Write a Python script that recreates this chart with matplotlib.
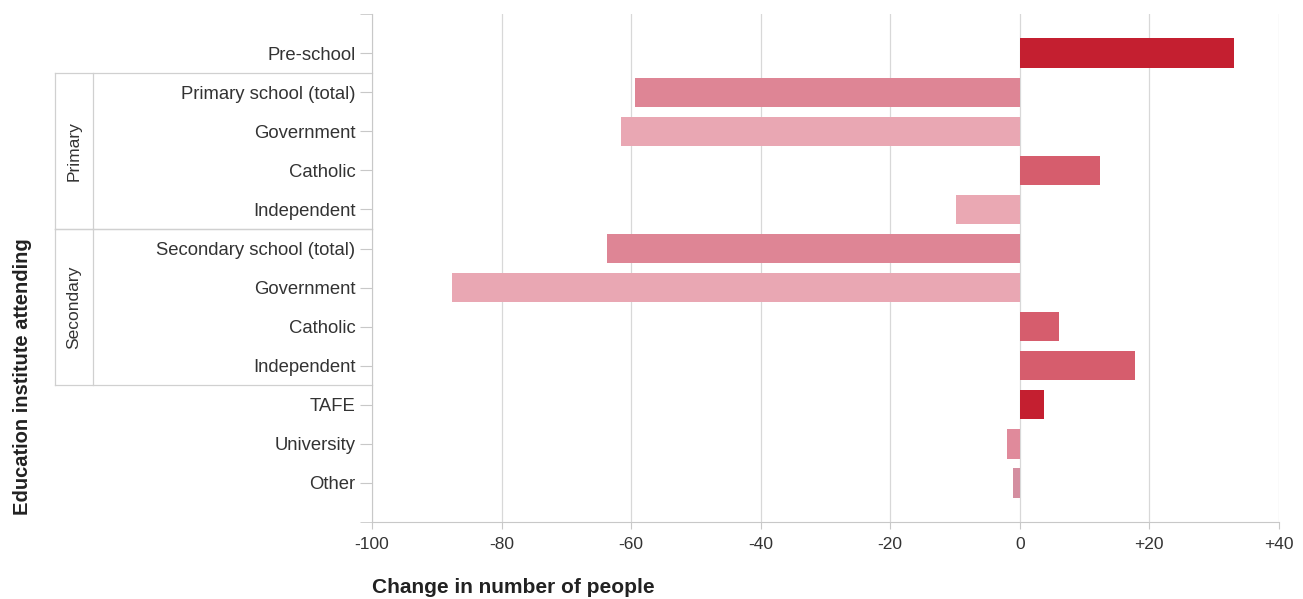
import numpy as np
import matplotlib.pyplot as plt
import matplotlib.transforms as mtransforms

categories = ['Pre-school', 'Primary school (total)', 'Government', 'Catholic',
              'Independent', 'Secondary school (total)', 'Government', 'Catholic',
              'Independent', 'TAFE', 'University', 'Other']
values = [33.0, -59.4, -61.5, 12.4, -9.8, -63.8, -87.6, 6.1, 17.8, 3.8, -2.0, -1.0]
colors = ['#c41f30', '#de8595', '#e9a7b3', '#d65d6d', '#eaa8b3', '#de8595',
          '#e9a7b3', '#d65d6d', '#d65d6d', '#c41f30', '#e08a9b', '#d48ea0']
xticks = [-100, -80, -60, -40, -20, 0, 20, 40]
xticklabels = ['-100', '-80', '-60', '-40', '-20', '0', '+20', '+40']
groups = [('Primary', 1, 4), ('Secondary', 5, 8)]

plt.rcParams['font.family'] = ['Liberation Sans', 'DejaVu Sans']
fig = plt.figure(figsize=(13.03, 5.99), dpi=100)
ax = fig.add_axes([0.2855, 0.1285, 0.696, 0.848])

y = np.arange(len(categories))
ax.barh(y, values, height=0.75, color=colors, zorder=3)

ax.set_ylim(len(categories), -1)
ax.set_xlim(-100, 40)
ax.set_yticks(y)
ax.set_yticklabels(categories, fontsize=13.3, color='#333333')
ax.set_yticks([-1, len(categories)], minor=True)
ax.set_xticks(xticks)
ax.set_xticklabels(xticklabels, fontsize=12.5, color='#333333')
ax.tick_params(axis='y', which='both', length=9, color='#c8c8c8', pad=3)
ax.tick_params(axis='x', length=5, color='#c8c8c8', pad=6)

ax.grid(axis='x', color='#d8d8d8', linewidth=0.9, zorder=0)
for s in ['top', 'right']:
    ax.spines[s].set_visible(False)
for s in ['left', 'bottom']:
    ax.spines[s].set_color('#c8c8c8')

# group boxes on the left
trans = mtransforms.blended_transform_factory(ax.transAxes, ax.transData)
x_out, x_in, x_txt = -0.3495, -0.3076, -0.3286
for name, start, end in groups:
    top, bot = start - 0.5, end + 0.5
    ax.plot([x_out, 0], [top, top], color='#d0d0d0', lw=0.9, transform=trans, clip_on=False)
    ax.plot([x_out, 0], [bot, bot], color='#d0d0d0', lw=0.9, transform=trans, clip_on=False)
    ax.plot([x_out, x_out], [top, bot], color='#d0d0d0', lw=0.9, transform=trans, clip_on=False)
    ax.plot([x_in, x_in], [top, bot], color='#d0d0d0', lw=0.9, transform=trans, clip_on=False)
    ax.text(x_txt, (start + end) / 2, name, rotation=90, ha='center', va='center',
            fontsize=12.5, color='#333333', transform=trans)

fig.text(0.0169, 0.372, 'Education institute attending', rotation=90, ha='center',
         va='center', fontsize=14.5, fontweight='bold', color='#222222')
fig.text(0.2855, 0.02, 'Change in number of people', ha='left', va='center',
         fontsize=15, fontweight='bold', color='#222222')

fig.savefig('out.png', dpi=100)
